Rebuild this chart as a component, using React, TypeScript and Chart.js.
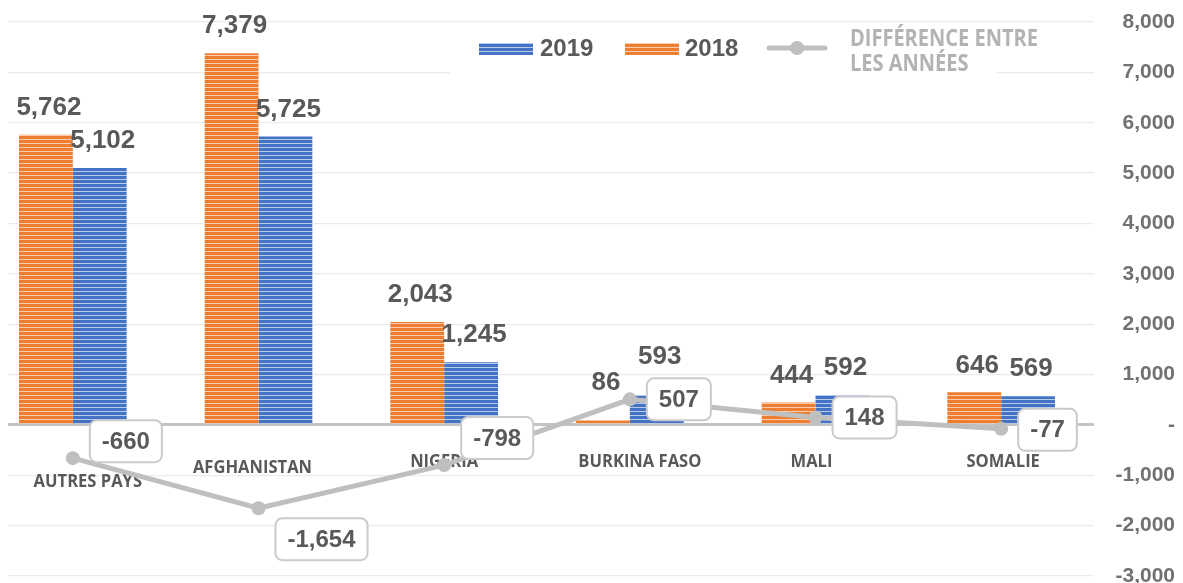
import React, { useEffect, useRef } from 'react';
import { Chart, registerables } from 'chart.js';

Chart.register(...registerables);

// ---- data ----
const categories = ['AUTRES PAYS', 'AFGHANISTAN', 'NIGERIA', 'BURKINA FASO', 'MALI', 'SOMALIE'];
const values2018 = [5762, 7379, 2043, 86, 444, 646];
const values2019 = [5102, 5725, 1245, 593, 592, 569];
const difference = [-660, -1654, -798, 507, 148, -77];
const yMin = -3000;
const yMax = 8000;
const yStep = 1000;
const legend2019 = '2019';
const legend2018 = '2018';
const legendDiff = ['DIFFÉRENCE ENTRE', 'LES ANNÉES'];

// ---- label placement (styling only) ----
const diffLabelDy = [-17, 31, -27, 0, 0, 1];
const barLabelExtraLift = [0, 0, 0, 11, 0, 0];
const catLabelNudge: [number, number][] = [[15, 20], [-6, 6], [0, 0], [10, 0], [-4, 0], [2, 0]];

const ORANGE = '#ED7D31';
const ORANGE_LIGHT = '#F9CDAE';
const BLUE = '#4472C4';
const BLUE_LIGHT = '#B9CBEA';
const GREY_LINE = '#BFBFBF';
const DARK = '#595959';
const Y_AXIS_WIDTH = 81;

const fmt = (v: number) => (v === 0 ? '-' : v.toLocaleString('en-US'));

function stripePattern(base: string, light: string): CanvasPattern | string {
  const c = document.createElement('canvas');
  c.width = 4;
  c.height = 4;
  const g = c.getContext('2d');
  if (!g) return base;
  g.fillStyle = base;
  g.fillRect(0, 0, 4, 4);
  g.fillStyle = light;
  g.fillRect(0, 3, 4, 1);
  return g.createPattern(c, 'repeat') || base;
}

function drawText(
  ctx: CanvasRenderingContext2D,
  text: string,
  x: number,
  y: number,
  font: string,
  color: string,
  align: CanvasTextAlign,
  sx = 1
) {
  ctx.save();
  ctx.font = font;
  ctx.fillStyle = color;
  ctx.textBaseline = 'middle';
  ctx.textAlign = align;
  ctx.translate(x, y);
  ctx.scale(sx, 1);
  ctx.fillText(text, 0, 0);
  ctx.restore();
}

const NUM_FONT = 'bold 26px "Liberation Sans", Arial, sans-serif';
const BOX_FONT = 'bold 24px "Liberation Sans", Arial, sans-serif';
const CAT_FONT = 'bold 18px "Open Sans", sans-serif';
const LEG_FONT = 'bold 24px "Liberation Sans", Arial, sans-serif';
const LEG2_FONT = 'bold 23px "Open Sans", sans-serif';
const TICK_FONT = 'bold 21px "Liberation Sans", Arial, sans-serif';

export default function App() {
  const ref = useRef<HTMLCanvasElement>(null);

  useEffect(() => {
    if (!ref.current) return;
    const orangeFill = stripePattern(ORANGE, ORANGE_LIGHT);
    const blueFill = stripePattern(BLUE, BLUE_LIGHT);

    const underlay = {
      id: 'underlay',
      beforeDatasetsDraw(chart: any) {
        const { ctx, chartArea, scales } = chart;
        const x = scales.x;
        const y = scales.y;
        const zeroY = y.getPixelForValue(0);
        // y tick labels (right axis)
        y.ticks.forEach((t: any) => {
          drawText(ctx, fmt(t.value), chartArea.right + Y_AXIS_WIDTH, y.getPixelForValue(t.value), TICK_FONT, '#717171', 'right');
        });
        // category labels
        categories.forEach((c, i) => {
          const px = x.getPixelForValue(i) + catLabelNudge[i][0];
          const py = zeroY + 37 + catLabelNudge[i][1];
          drawText(ctx, c, px, py, CAT_FONT, DARK, 'center', 0.92);
        });
        // legend
        const L = chartArea.left;
        ctx.save();
        ctx.fillStyle = '#ffffff';
        ctx.fillRect(L + 470, 24, 547, 54);
        ctx.restore();
        const sy = 43;
        ctx.save();
        ctx.fillStyle = blueFill as any;
        ctx.fillRect(L + 499, sy, 54, 12);
        ctx.fillStyle = orangeFill as any;
        ctx.fillRect(L + 645, sy, 54, 12);
        ctx.restore();
        drawText(ctx, legend2019, L + 560, 49, LEG_FONT, DARK, 'left');
        drawText(ctx, legend2018, L + 705, 49, LEG_FONT, DARK, 'left');
        ctx.save();
        ctx.strokeStyle = GREY_LINE;
        ctx.lineWidth = 5;
        ctx.lineCap = 'round';
        ctx.beginPath();
        ctx.moveTo(L + 789, 48);
        ctx.lineTo(L + 845, 48);
        ctx.stroke();
        ctx.fillStyle = GREY_LINE;
        ctx.beginPath();
        ctx.arc(L + 817, 48, 7, 0, Math.PI * 2);
        ctx.fill();
        ctx.restore();
        drawText(ctx, legendDiff[0], L + 870, 39, LEG2_FONT, '#B3B3B3', 'left', 0.87);
        drawText(ctx, legendDiff[1], L + 870, 64, LEG2_FONT, '#B3B3B3', 'left', 0.87);
      },
    };

    const overlay = {
      id: 'overlay',
      afterDatasetsDraw(chart: any) {
        const { ctx } = chart;
        [0, 1].forEach((di) => {
          const meta = chart.getDatasetMeta(di);
          const data = chart.data.datasets[di].data as number[];
          meta.data.forEach((el: any, i: number) => {
            drawText(ctx, fmt(data[i]), el.x + 3, el.y - 27 - barLabelExtraLift[i], NUM_FONT, DARK, 'center');
          });
        });
        const lm = chart.getDatasetMeta(2);
        lm.data.forEach((pt: any, i: number) => {
          const text = fmt(difference[i]);
          ctx.save();
          ctx.font = BOX_FONT;
          const w = ctx.measureText(text).width + 24;
          const h = 42;
          const bx = pt.x + 17;
          const by = pt.y + diffLabelDy[i] - h / 2;
          ctx.beginPath();
          (ctx as any).roundRect(bx, by, w, h, 7);
          ctx.fillStyle = '#ffffff';
          ctx.fill();
          ctx.lineWidth = 2;
          ctx.strokeStyle = '#CACACA';
          ctx.stroke();
          ctx.restore();
          drawText(ctx, text, bx + w / 2, by + h / 2 + 1, BOX_FONT, DARK, 'center');
        });
      },
    };

    const chart = new Chart(ref.current, {
      type: 'bar',
      data: {
        labels: categories,
        datasets: [
          {
            label: legend2018,
            data: values2018,
            backgroundColor: orangeFill as any,
            borderWidth: 0,
            order: 2,
          },
          {
            label: legend2019,
            data: values2019,
            backgroundColor: blueFill as any,
            borderWidth: 0,
            order: 2,
          },
          {
            type: 'line',
            label: legendDiff.join(' '),
            data: difference,
            borderColor: GREY_LINE,
            backgroundColor: GREY_LINE,
            borderWidth: 5,
            pointRadius: 7,
            pointBorderWidth: 0,
            pointBackgroundColor: GREY_LINE,
            tension: 0,
            order: 0,
          } as any,
        ],
      },
      options: {
        animation: false,
        responsive: false,
        datasets: {
          bar: { barPercentage: 1, categoryPercentage: 0.58 },
        },
        layout: { autoPadding: false, padding: { top: 22, bottom: 22, left: 0, right: 0 } },
        plugins: {
          legend: { display: false },
          tooltip: { enabled: false },
        },
        scales: {
          x: {
            display: false,
            offset: true,
          },
          y: {
            position: 'right',
            min: yMin,
            max: yMax,
            border: { display: false },
            afterFit: (s: any) => {
              s.width = Y_AXIS_WIDTH;
            },
            grid: {
              drawTicks: false,
              color: (c: any) => (c.tick && c.tick.value === 0 ? '#C4C4C4' : '#EBEBEB'),
              lineWidth: (c: any) => (c.tick && c.tick.value === 0 ? 3 : 1.3),
            },
            ticks: {
              display: false,
              stepSize: yStep,
            },
          },
        },
      } as any,
      plugins: [underlay, overlay],
    });
    return () => chart.destroy();
  }, []);

  return (
    <div
      style={{
        position: 'fixed',
        left: 8,
        top: 0,
        width: 1175,
        height: 583,
        overflow: 'hidden',
        background: '#ffffff',
      }}
    >
      <div style={{ position: 'absolute', left: -28, top: 0, width: 1195, height: 598 }}>
        <canvas ref={ref} width={1195} height={598} style={{ display: 'block' }} />
      </div>
    </div>
  );
}
